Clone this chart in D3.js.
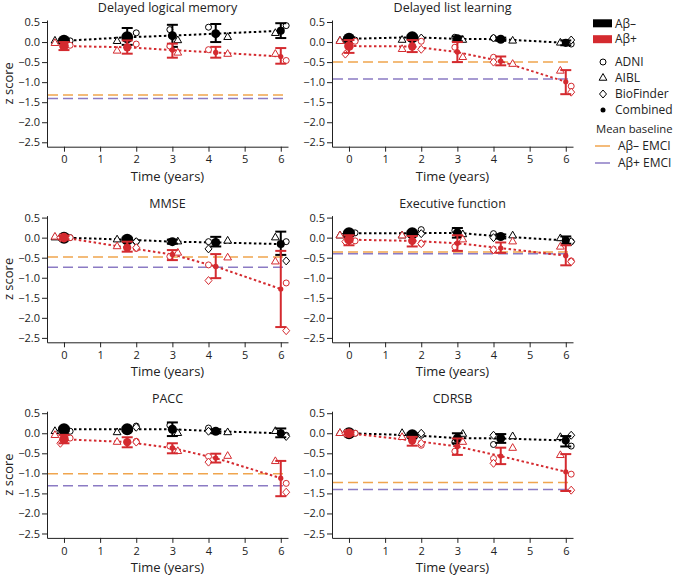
<!DOCTYPE html>
<html><head><meta charset="utf-8">
<script src="https://cdn.jsdelivr.net/npm/d3@7"></script>
<style>body{margin:0;background:#fff}svg{display:block;font-family:"Open Sans",sans-serif}</style>
</head><body><svg id="c" width="676" height="579"></svg>
<script>
// ---------- data ----------
const panelTitles = ["Delayed logical memory","Delayed list learning","MMSE","Executive function","PACC","CDRSB"];
const xTicks = [0,1,2,3,4,5,6];
const yTicks = [0.5,0,-0.5,-1,-1.5,-2,-2.5];
const combinedTimes = [0,1.75,3,4.2,6];
const adniTimes = [0.17,2,2.93,4,6.15];
const aiblTimes = [-0.25,1.47,3.15,4.53,5.85];
const bioTimes = [-0.1,2,4,6.15];
// relative sample sizes of combined estimates (marker area)
const negN = [800,780,450,450,360];
const posN = [520,380,170,160,150];
// Aβ– combined mean / CI
const negMean = [[0.03,0.12,0.16,0.21,0.28],[0.08,0.12,0.08,0.07,-0.02],[0.0,-0.05,-0.1,-0.12,-0.16],[0.11,0.11,0.12,0.03,-0.07],[0.1,0.1,0.1,0.05,0.0],[0.0,-0.05,-0.12,-0.13,-0.18]];
const negHi = [[0.08,0.35,0.43,0.45,0.47],[0.12,0.16,0.14,0.11,0.04],[0.05,0.0,-0.05,0.02,0.15],[0.15,0.15,0.24,0.08,0.03],[0.14,0.14,0.27,0.1,0.12],[0.03,0.0,0.0,-0.02,-0.07]];
const negLo = [[-0.02,-0.07,-0.12,0.0,0.1],[0.04,0.08,0.02,0.03,-0.08],[-0.05,-0.1,-0.15,-0.22,-0.43],[0.07,0.07,0.0,-0.02,-0.15],[0.06,0.06,-0.07,0.0,-0.1],[-0.03,-0.1,-0.25,-0.24,-0.33]];
// Aβ+ combined mean / CI
const posMean = [[-0.1,-0.13,-0.2,-0.26,-0.36],[-0.1,-0.11,-0.25,-0.48,-0.99],[0.0,-0.25,-0.42,-0.72,-1.28],[-0.05,-0.08,-0.14,-0.26,-0.45],[-0.15,-0.22,-0.37,-0.62,-1.12],[0.0,-0.18,-0.33,-0.57,-0.96]];
const posHi = [[0.0,0.04,-0.04,-0.12,-0.15],[0.05,0.05,0.0,-0.36,-0.7],[0.04,-0.1,-0.31,-0.41,-0.33],[0.06,0.04,0.06,-0.12,-0.19],[-0.04,-0.1,-0.25,-0.51,-0.69],[0.03,-0.09,-0.13,-0.36,-0.52]];
const posLo = [[-0.2,-0.29,-0.39,-0.39,-0.54],[-0.27,-0.25,-0.5,-0.58,-1.3],[-0.04,-0.35,-0.56,-1.01,-2.23],[-0.19,-0.22,-0.33,-0.38,-0.69],[-0.25,-0.35,-0.5,-0.73,-1.57],[-0.03,-0.31,-0.54,-0.77,-1.44]];
// cohort values, Aβ–
const negADNI = [[0.03,0.23,0.31,0.37,0.41],[0.05,0.08,0.12,0.1,-0.05],[0.0,-0.1,-0.1,-0.1,-0.1],[0.12,0.2,0.18,0.1,-0.1],[0.05,0.18,0.2,0.13,-0.05],[0.0,-0.05,-0.22,-0.28,-0.32]];
const negAIBL = [[0.03,0.02,0.04,0.12,0.22],[0.03,0.05,0.05,0.03,-0.02],[0.0,-0.05,-0.1,-0.08,0.0],[0.05,0.05,0.08,0.05,-0.02],[0.05,0.02,0.0,0.02,0.05],[0.0,0.0,-0.02,-0.08,-0.1]];
const negBio = [null,[0.05,0.1,0.1,0.05],[0.0,-0.1,-0.28,-0.58],[0.08,0.1,0.0,-0.1],[0.05,0.15,0.05,-0.08],[0.0,0.0,-0.05,-0.05]];
// cohort values, Aβ+
const posADNI = [[-0.08,-0.05,-0.1,-0.19,-0.46],[0.02,0.02,-0.13,-0.38,-1.1],[0.0,-0.27,-0.47,-0.68,-1.13],[-0.08,-0.15,-0.23,-0.32,-0.58],[-0.12,-0.2,-0.32,-0.58,-1.25],[0.0,-0.3,-0.45,-0.63,-1.02]];
const posAIBL = [[-0.03,-0.22,-0.27,-0.3,-0.3],[0.02,-0.18,-0.38,-0.55,-0.72],[0.02,-0.22,-0.38,-0.5,-0.6],[0.05,0.05,-0.05,-0.1,-0.23],[-0.05,-0.22,-0.45,-0.57,-0.7],[0.0,-0.1,-0.22,-0.37,-0.55]];
const posBio = [null,[-0.3,-0.18,-0.5,-1.25],[0.0,-0.25,-1.07,-2.32],[-0.1,-0.15,-0.3,-0.6],[-0.25,-0.22,-0.72,-1.47],[0.0,-0.25,-0.75,-1.42]];
// mean baseline of EMCI groups
const baselineNeg = [-1.32,-0.5,-0.48,-0.36,-1.01,-1.23];
const baselinePos = [-1.41,-0.92,-0.74,-0.4,-1.31,-1.4];

// ---------- drawing ----------
const RED = "#d42a2f", BLACK = "#000", ORANGE = "#f0a54e", PURPLE = "#8b7bc4", TXT = "#222";
const svg = d3.select("#c");
const colLeft = [47, 332], plotW = 241;
const rowTop = [20, 215.6, 411.2], plotH = 126.7;
const rScale = d3.scaleSqrt().domain([0, 800]).range([0, 6]);

function marker(g, type, x, y, color, fill) {
  if (type === "circle") {
    g.append("circle").attr("cx", x).attr("cy", y).attr("r", 3).attr("fill", fill).attr("stroke", color).attr("stroke-width", 1);
  } else if (type === "triangle") {
    g.append("path").attr("d", d3.symbol(d3.symbolTriangle, 26)()).attr("transform", `translate(${x},${y})`).attr("fill", fill).attr("stroke", color).attr("stroke-width", 1);
  } else if (type === "diamond") {
    g.append("path").attr("d", `M0,-4L3.5,0L0,4L-3.5,0Z`).attr("transform", `translate(${x},${y})`).attr("fill", fill).attr("stroke", color).attr("stroke-width", 1);
  }
}

panelTitles.forEach((title, p) => {
  const col = p % 2, row = Math.floor(p / 2);
  const x = d3.scaleLinear().domain([-0.47, 6.2]).range([colLeft[col], colLeft[col] + plotW]);
  const y = d3.scaleLinear().domain([-2.61, 0.55]).range([rowTop[row] + plotH, rowTop[row]]);
  const g = svg.append("g");

  // axes
  const ya = g.append("g").attr("transform", `translate(${colLeft[col]},0)`)
    .call(d3.axisLeft(y).tickValues(yTicks).tickSize(5).tickSizeOuter(0).tickPadding(2).tickFormat(d3.format(".1f")));
  const xa = g.append("g").attr("transform", `translate(0,${rowTop[row] + plotH})`)
    .call(d3.axisBottom(x).tickValues(xTicks).tickSize(5).tickSizeOuter(0).tickPadding(4).tickFormat(d3.format("d")));
  [ya, xa].forEach(a => {
    a.selectAll("text").attr("font-size", 11).attr("fill", TXT).attr("font-family", "Open Sans");
    a.selectAll("line,path").attr("stroke", "#222");
  });
  g.append("text").attr("x", colLeft[col] + plotW / 2).attr("y", rowTop[row] - 8)
    .attr("text-anchor", "middle").attr("font-size", 12.5).attr("fill", TXT).text(title);
  g.append("text").attr("x", colLeft[col] + plotW / 2).attr("y", rowTop[row] + plotH + 34)
    .attr("text-anchor", "middle").attr("font-size", 13).attr("fill", TXT).text("Time (years)");
  if (col === 0) {
    g.append("text").attr("transform", `translate(13,${rowTop[row] + plotH / 2}) rotate(-90)`)
      .attr("text-anchor", "middle").attr("font-size", 13).attr("fill", TXT).text("z score");
  }

  // baselines
  [[baselineNeg[p], ORANGE], [baselinePos[p], PURPLE]].forEach(([v, c]) => {
    g.append("line").attr("x1", colLeft[col] + 1).attr("x2", colLeft[col] + plotW)
      .attr("y1", y(v)).attr("y2", y(v)).attr("stroke", c).attr("stroke-width", 1.5).attr("stroke-dasharray", "10,5");
  });

  const groups = [
    {color: BLACK, mean: negMean[p], hi: negHi[p], lo: negLo[p], adni: negADNI[p], aibl: negAIBL[p], bio: negBio[p], n: negN},
    {color: RED, mean: posMean[p], hi: posHi[p], lo: posLo[p], adni: posADNI[p], aibl: posAIBL[p], bio: posBio[p], n: posN}
  ];
  groups.forEach(gr => {
    const line = d3.line().x((d, i) => x(combinedTimes[i])).y(d => y(d));
    g.append("path").attr("d", line(gr.mean)).attr("fill", "none").attr("stroke", gr.color)
      .attr("stroke-width", 2).attr("stroke-dasharray", "2.5,2.5");
    gr.adni.forEach((v, i) => marker(g, "circle", x(adniTimes[i]), y(v), gr.color, "white"));
    gr.aibl.forEach((v, i) => marker(g, "triangle", x(aiblTimes[i]), y(v), gr.color, "white"));
    if (gr.bio) gr.bio.forEach((v, i) => marker(g, "diamond", x(bioTimes[i]), y(v), gr.color, "white"));
    gr.mean.forEach((v, i) => {
      const cx = x(combinedTimes[i]);
      g.append("line").attr("x1", cx).attr("x2", cx).attr("y1", y(gr.hi[i])).attr("y2", y(gr.lo[i])).attr("stroke", gr.color).attr("stroke-width", 2);
      [gr.hi[i], gr.lo[i]].forEach(e => g.append("line").attr("x1", cx - 5.5).attr("x2", cx + 5.5)
        .attr("y1", y(e)).attr("y2", y(e)).attr("stroke", gr.color).attr("stroke-width", 2));
      g.append("circle").attr("cx", cx).attr("cy", y(v)).attr("r", rScale(gr.n[i])).attr("fill", gr.color);
    });
  });
});

// ---------- legend ----------
const lg = svg.append("g").attr("font-size", 12).attr("fill", TXT);
[["Aβ–", BLACK, 23.3], ["Aβ+", RED, 39.2]].forEach(([t, c, yy]) => {
  lg.append("rect").attr("x", 593).attr("y", yy - 4).attr("width", 19).attr("height", 8).attr("fill", c);
  lg.append("text").attr("x", 615).attr("y", yy + 4.2).text(t);
});
[["ADNI", "circle", 62], ["AIBL", "triangle", 78], ["BioFinder", "diamond", 94]].forEach(([t, m, yy]) => {
  marker(lg, m, 603, yy, BLACK, "white");
  lg.append("text").attr("x", 615).attr("y", yy + 4.2).text(t);
});
lg.append("circle").attr("cx", 603).attr("cy", 110).attr("r", 2.5).attr("fill", BLACK);
lg.append("text").attr("x", 615).attr("y", 114.2).text("Combined");
lg.append("text").attr("x", 596).attr("y", 133.2).attr("font-size", 11.3).text("Mean baseline");
[["Aβ– EMCI", ORANGE, 146], ["Aβ+ EMCI", PURPLE, 163]].forEach(([t, c, yy]) => {
  lg.append("line").attr("x1", 595).attr("x2", 610).attr("y1", yy).attr("y2", yy).attr("stroke", c).attr("stroke-width", 1.5);
  lg.append("text").attr("x", 618).attr("y", yy + 4.2).text(t);
});
</script></body></html>
